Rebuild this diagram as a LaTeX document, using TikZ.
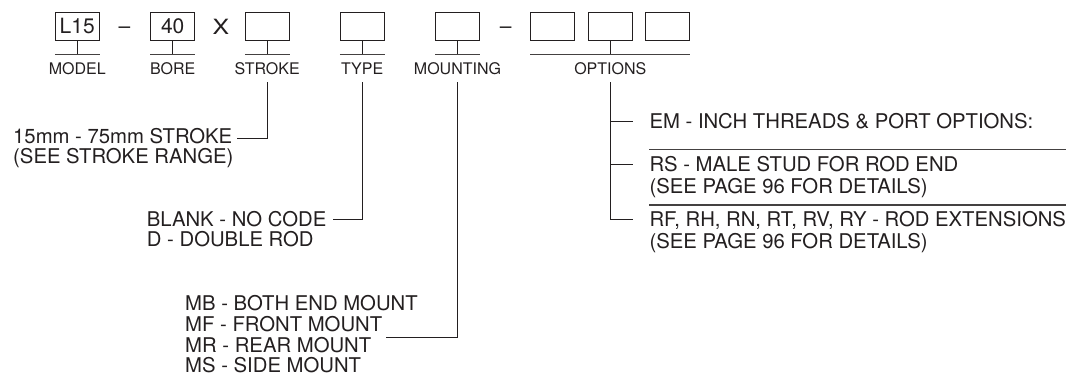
\documentclass[tikz,border=0pt]{standalone}
\usepackage{fontspec}
\setmainfont{TeX Gyre Heros}
\newcommand\myDesc{\fontsize{20.3}{24}\selectfont}
\newcommand\myLab{\fontsize{16}{19}\selectfont}
\newcommand\myBox{\fontsize{21}{25}\selectfont}
\definecolor{ink}{HTML}{231F20}
\begin{document}
\begin{tikzpicture}[x=1pt,y=-1pt,
  every node/.style={text=ink},
  codebox/.style={draw=ink,line width=0.9pt,minimum width=44pt,minimum height=27.7pt,inner sep=0pt,font=\myBox},
  lab/.style={anchor=base,inner sep=0pt,font=\myLab,text depth=0pt},
  desc/.style={anchor=base west,inner sep=0pt,font=\myDesc,text height=14.4pt,text depth=0pt},
  sym/.style={anchor=base,inner sep=0pt,font=\myBox},
  conn/.style={draw=ink,line width=0.9pt},
  rulel/.style={draw=ink!85,line width=1.2pt}]
\useasboundingbox (0,0) rectangle (1069,375);
\coordinate (rule) at (0,54.3);
% top row boxes
\node[codebox] (bmodel) at (77.2,26.2) {L15};
\node[sym] (d1) at (124.5,33) {–};
\node[codebox] (bbore) at (172.7,26.2) {40};
\node[sym] (xx) at (221,34.4) {\scalebox{1.18}[1]{X}};
\node[codebox] (bstroke) at (267.2,26.2) {};
\node[codebox] (btype) at (362.2,26.2) {};
\node[codebox] (bmount) at (457.5,26.2) {};
\node[sym] (d2) at (505.8,33) {–};
\node[codebox] (bo1) at (552.8,26.2) {};
\node[codebox] (bo2) at (610.3,26.2) {};
\node[codebox] (bo3) at (667.8,26.2) {};
% stems and rules
\foreach \n in {bmodel,bbore,bstroke,btype,bmount}{
  \draw[conn] (\n.south) -- (\n.south |- rule);
  \draw[rulel] (\n.west |- rule) -- (\n.east |- rule);
}
\draw[conn] (bo2.south) -- (bo2.south |- rule);
\draw[rulel] (bo1.west |- rule) -- (bo3.east |- rule);
% labels
\node[lab] (lmodel) at (77.2,74) {MODEL};
\node[lab] (lbore) at (172.7,74) {BORE};
\node[lab] (lstroke) at (267.2,74) {STROKE};
\node[lab] (ltype) at (362.2,74) {TYPE};
\node[lab] (lmount) at (457.5,74) {MOUNTING};
\node[lab] (lopt) at (610.3,74) {OPTIONS};
% descriptions
\node[desc] (s1) at (13,143.3) {15mm - 75mm STROKE};
\node[desc] (s2) at (13,163.3) {(SEE STROKE RANGE)};
\node[desc] (t1) at (146.7,226.7) {BLANK - NO CODE};
\node[desc] (t2) at (146.7,246) {D - DOUBLE ROD};
\node[desc] (m1) at (185,310.3) {MB - BOTH END MOUNT};
\node[desc] (m2) at (185,331.3) {MF - FRONT MOUNT};
\node[desc] (m3) at (185,352.3) {MR - REAR MOUNT};
\node[desc] (m4) at (185,372.3) {MS - SIDE MOUNT};
\node[desc] (o1) at (649.3,128.3) {EM - INCH THREADS \& PORT OPTIONS:};
\node[desc] (o2) at (649.3,171.7) {RS - MALE STUD FOR ROD END};
\node[desc] (o3) at (649.3,193) {(SEE PAGE 96 FOR DETAILS)};
\node[desc] (o4) at (649.3,226.7) {RF, RH, RN, RT, RV, RY - ROD EXTENSIONS};
\node[desc] (o5) at (649.3,248.3) {(SEE PAGE 96 FOR DETAILS)};
% connectors
\draw[conn] ([yshift=-8pt]lstroke.south) |- ([xshift=5pt,yshift=-2.5pt]s1.east);
\draw[conn] ([yshift=-8pt]ltype.south) |- ([xshift=6pt]t1.east);
\draw[conn] ([yshift=-8pt]lmount.south) |- ([xshift=15pt]m3.north east);
\draw[conn] ([yshift=-8pt]lopt.south) |- ([xshift=-16pt]o4.west);
\draw[conn] (lopt.south |- o1.west) -- ([xshift=-16pt]o1.west);
\draw[conn] (lopt.south |- o2.west) -- ([xshift=-16pt]o2.west);
% separators
\draw[rulel] (o1.west |- 0,149.3) -- (o4.east |- 0,149.3);
\draw[rulel] (o1.west |- 0,205) -- (o4.east |- 0,205);
\end{tikzpicture}
\end{document}
